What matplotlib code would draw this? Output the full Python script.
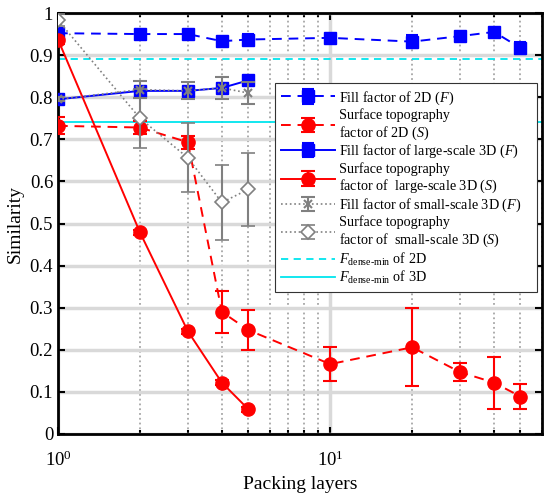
import matplotlib
matplotlib.use("Agg")
import matplotlib.pyplot as plt
import numpy as np
from matplotlib.ticker import FuncFormatter, LogLocator, NullFormatter

plt.rcParams['font.family'] = ['Liberation Serif', 'DejaVu Serif']
plt.rcParams['mathtext.fontset'] = 'custom'
plt.rcParams['mathtext.rm'] = 'Liberation Serif'
plt.rcParams['mathtext.it'] = 'Liberation Serif:italic'
plt.rcParams['mathtext.bf'] = 'Liberation Serif:bold'

# Data
x_2d = [1, 2, 3, 4, 5, 10, 20, 30, 40, 50]
fill_2d = [0.952, 0.950, 0.950, 0.933, 0.937, 0.941, 0.932, 0.945, 0.955, 0.917]
fill_2d_err = [0.010, 0.008, 0.008, 0.008, 0.012, 0.010, 0.015, 0.008, 0.008, 0.015]
surf_2d = [0.732, 0.728, 0.693, 0.290, 0.247, 0.166, 0.206, 0.147, 0.122, 0.089]
surf_2d_err = [0.020, 0.015, 0.015, 0.050, 0.047, 0.040, 0.093, 0.022, 0.062, 0.029]

x_3d = [1, 2, 3, 4, 5]
fill_l3d = [0.795, 0.815, 0.815, 0.822, 0.840]
fill_l3d_err = [0.006, 0.006, 0.006, 0.006, 0.008]
surf_l3d = [0.937, 0.479, 0.244, 0.122, 0.059]
surf_l3d_err = [0.010, 0.006, 0.006, 0.006, 0.006]
fill_s3d = [0.795, 0.818, 0.815, 0.822, 0.810]
fill_s3d_err = [0.005, 0.020, 0.020, 0.027, 0.027]
surf_s3d = [0.983, 0.750, 0.656, 0.550, 0.581]
surf_s3d_err = [0.015, 0.070, 0.082, 0.090, 0.087]

f_dense_2d = 0.89
f_dense_3d = 0.74

labels = [
    'Fill factor of 2D ($F$)',
    'Surface topography\nfactor of 2D ($S$)',
    'Fill factor of large-scale 3D ($F$)',
    'Surface topography\nfactor of  large-scale 3D ($S$)',
    'Fill factor of small-scale 3D ($F$)',
    'Surface topography\nfactor of  small-scale 3D ($S$)',
    r'$F_{\text{dense-min}}$ of 2D',
    r'$F_{\text{dense-min}}$ of 3D',
]

fig = plt.figure(figsize=(5.5, 4.98), dpi=100)
ax = fig.add_axes([58/550, 1-434/498, (542-58)/550, (434-13)/498])

blue = '#0000ff'
red = '#ff0000'
gray = '#808080'
cyan = '#00e5ee'

ax.axhline(f_dense_2d, color=cyan, ls='--', lw=1.3, dashes=(4, 3), label=labels[6], zorder=2)
ax.axhline(f_dense_3d, color=cyan, ls='-', lw=1.3, label=labels[7], zorder=2)

ax.errorbar(x_2d, fill_2d, yerr=fill_2d_err, color=blue, ls='--', dashes=(5, 3.5), lw=1.4,
            marker='s', ms=8, capsize=4.5, elinewidth=1.5, capthick=1.5, label=labels[0], zorder=4)
ax.errorbar(x_2d, surf_2d, yerr=surf_2d_err, color=red, ls='--', dashes=(5, 3.5), lw=1.4,
            marker='o', ms=9.5, capsize=5, elinewidth=1.5, capthick=1.5, label=labels[1], zorder=4)
ax.errorbar(x_3d, fill_l3d, yerr=fill_l3d_err, color=blue, ls='-', lw=1.4,
            marker='s', ms=8, capsize=4.5, elinewidth=1.5, capthick=1.5, label=labels[2], zorder=4)
ax.errorbar(x_3d, surf_l3d, yerr=surf_l3d_err, color=red, ls='-', lw=1.4,
            marker='o', ms=9.5, capsize=5, elinewidth=1.5, capthick=1.5, label=labels[3], zorder=4)
ax.errorbar(x_3d, fill_s3d, yerr=fill_s3d_err, color=gray, ls=':', lw=1.2,
            marker='x', ms=6, mew=1.5, capsize=5, elinewidth=1.5, capthick=1.5, label=labels[4], zorder=5)
ax.errorbar(x_3d, surf_s3d, yerr=surf_s3d_err, color=gray, ls=':', lw=1.2,
            marker='D', ms=7, mfc='white', mew=1.2, capsize=5, elinewidth=1.5, capthick=1.5,
            label=labels[5], zorder=5)

ax.set_xscale('log')
ax.set_xlim(1, 60)
ax.set_ylim(0, 1)
ax.set_yticks(np.arange(0, 1.01, 0.1))
ax.yaxis.set_major_formatter(FuncFormatter(lambda v, p: '%g' % round(v, 1)))
ax.xaxis.set_major_locator(LogLocator(base=10, numticks=5))
ax.xaxis.set_minor_locator(LogLocator(base=10, subs=np.arange(2, 10), numticks=10))
ax.xaxis.set_minor_formatter(NullFormatter())

ax.grid(True, which='major', axis='both', color='#d9d9d9', lw=2.5, zorder=0)
ax.grid(True, which='minor', axis='x', color='#a6a6a6', ls=':', lw=1.3, zorder=0)
ax.set_axisbelow(True)

ax.tick_params(which='both', direction='in', top=True, right=True, labelsize=13.5, width=1.5, color='black')
ax.tick_params(which='major', length=5)
ax.tick_params(which='minor', length=3)
ax.tick_params(axis='x', which='major', pad=12)
for s in ax.spines.values():
    s.set_linewidth(2)

ax.set_xlabel('Packing layers', fontsize=14, labelpad=4)
ax.set_ylabel('Similarity', fontsize=14, labelpad=4)

handles, labs = ax.get_legend_handles_labels()
order = [labs.index(l) for l in labels]
leg = ax.legend([handles[i] for i in order], [labs[i] for i in order],
                loc='upper left', bbox_to_anchor=(0.448, 0.834, 0.541, 0.0), mode='expand',
                borderaxespad=0,
                fontsize=10.2, labelspacing=0.1, handlelength=3.8, handletextpad=0.25,
                borderpad=0.45, fancybox=False, framealpha=1, edgecolor='#333333')
leg.get_frame().set_linewidth(0.8)
leg.set_zorder(10)

fig.savefig('out.png', dpi=100)
